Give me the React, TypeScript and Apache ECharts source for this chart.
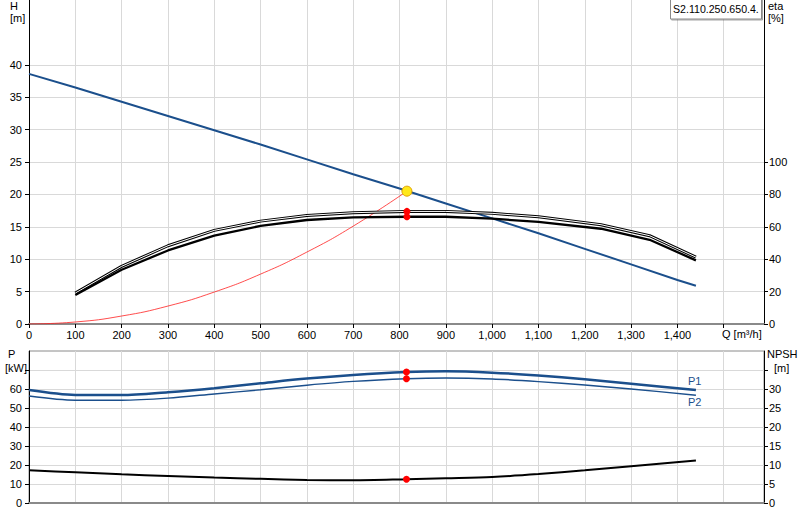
import React, { useEffect, useRef } from 'react';
import * as echarts from 'echarts';

// Q in m³/h
const headQ = [0, 100, 200, 300, 400, 500, 600, 700, 800, 900, 1000, 1100, 1200, 1300, 1400, 1440];
const headH = [38.6, 36.5, 34.3, 32.1, 29.9, 27.7, 25.4, 23.1, 20.9, 18.6, 16.3, 14.0, 11.6, 9.2, 6.8, 5.9];

const systemQ = [0, 100, 200, 300, 400, 500, 600, 700, 816];
const systemH = [0, 0.31, 1.23, 2.77, 4.93, 7.7, 11.1, 15.1, 20.5];

const etaQ = [100, 200, 300, 400, 500, 600, 700, 815, 900, 1000, 1100, 1235, 1340, 1440];
const etaUpper = [19.1, 35.6, 48.3, 57.8, 63.5, 67.0, 68.7, 69.5, 69.5, 68.3, 66.2, 61.3, 54.5, 41.3];
const etaLower = [17.9, 33.5, 45.4, 54.5, 60.6, 64.2, 65.8, 66.2, 66.2, 65.0, 63.0, 58.8, 52.0, 39.3];

const powerQ = [0, 100, 200, 300, 400, 500, 600, 700, 815, 900, 1000, 1100, 1200, 1300, 1440];
const p1 = [59.5, 56.9, 56.8, 58.3, 60.4, 63.0, 65.5, 67.4, 68.9, 69.3, 68.6, 67.1, 65.1, 62.8, 59.5];
const p2 = [56.3, 54.1, 54.1, 55.2, 57.4, 59.6, 62.0, 64.0, 65.4, 65.8, 65.3, 63.9, 62.1, 60.0, 56.7];

const npshQ = [0, 100, 200, 300, 400, 500, 600, 700, 815, 900, 1000, 1100, 1200, 1300, 1440];
const npsh = [8.6, 8.1, 7.55, 7.1, 6.68, 6.35, 6.05, 5.97, 6.24, 6.5, 6.84, 7.6, 8.6, 9.7, 11.2];

// duty point
const dutyQ = 816;
const dutyH = 20.5;
const dutyEta = [69.5, 66.2];
const dutyP = [68.9, 65.4];
const dutyNpsh = 6.24;

const hTicks = [0, 5, 10, 15, 20, 25, 30, 35, 40];
const etaTicks = [0, 20, 40, 60, 80, 100];
const pLabels = [0, 10, 20, 30, 40, 50, 60];
const pTicks = [0, 10, 20, 30, 40, 50, 60, 70];
const npshLabels = [0, 5, 10, 15, 20, 25, 30];
const npshTicks = [0, 5, 10, 15, 20, 25, 30, 35];

const FONT = '"Liberation Sans", Arial, sans-serif';
const BLUE = '#1b4f8c';
const RED = '#ff0000';
const GRID_LINE = '#d9d9d9';

const zip = (xs: number[], ys: number[]) => xs.map((x, i) => [x, ys[i]]);

function gText() {
	return { fill: '#000', fontSize: 11, fontFamily: FONT };
}

const App: React.FC = () => {
	const chartRef = useRef<HTMLDivElement>(null);

	useEffect(() => {
		if (!chartRef.current) return;
		const chart = echarts.init(chartRef.current, undefined, { renderer: 'svg' });

		const labelStyle = { color: '#000', fontSize: 11, fontFamily: FONT };
		const xBase = {
			type: 'value' as const,
			min: 0,
			max: 1587,
			interval: 100,
			splitLine: { show: true, lineStyle: { color: GRID_LINE, width: 1 } },
			axisLine: { show: true, lineStyle: { color: '#8a8a8a', width: 2 } }
		};
		const dot = { color: RED, opacity: 1 };

		const option: echarts.EChartsOption = {
			animation: false,
			grid: [
				{ left: 29, right: 36, top: 0, height: 324 },
				{ left: 29, right: 36, top: 351, height: 152, show: true, borderColor: '#8a8a8a', borderWidth: 1 }
			],
			xAxis: [
				{
					...xBase,
					gridIndex: 0,
					axisTick: { show: true, length: 4, lineStyle: { color: '#000' } },
					axisLabel: {
						...labelStyle,
						margin: 5,
						showMaxLabel: false,
						formatter: (v: number) => (v > 1450 ? '' : v.toLocaleString('en-US'))
					}
				},
				{
					...xBase,
					gridIndex: 1,
					axisTick: { show: false },
					axisLabel: { show: false }
				}
			],
			yAxis: [
				{
					type: 'value',
					gridIndex: 0,
					min: 0,
					max: 50,
					interval: 5,
					axisLine: { show: true, lineStyle: { color: '#000', width: 1 } },
					axisTick: { show: true, length: 4, customValues: hTicks, lineStyle: { color: '#000' } },
					axisLabel: { ...labelStyle, margin: 7, customValues: hTicks },
					splitLine: { show: true, lineStyle: { color: GRID_LINE, width: 1 } }
				},
				{
					type: 'value',
					gridIndex: 0,
					position: 'right',
					min: 0,
					max: 200,
					interval: 20,
					axisLine: { show: true, lineStyle: { color: '#000', width: 1 } },
					axisTick: { show: true, length: 4, customValues: etaTicks, lineStyle: { color: '#000' } },
					axisLabel: { ...labelStyle, margin: 5, customValues: etaTicks },
					splitLine: { show: false }
				},
				{
					type: 'value',
					gridIndex: 1,
					min: 0,
					max: 80,
					interval: 10,
					axisLine: { show: true, lineStyle: { color: '#000', width: 1 } },
					axisTick: { show: true, length: 4, customValues: pTicks, lineStyle: { color: '#000' } },
					axisLabel: { ...labelStyle, margin: 7, customValues: pLabels },
					splitLine: { show: true, lineStyle: { color: GRID_LINE, width: 1 } }
				},
				{
					type: 'value',
					gridIndex: 1,
					position: 'right',
					min: 0,
					max: 40,
					interval: 5,
					axisLine: { show: true, lineStyle: { color: '#000', width: 1 } },
					axisTick: { show: true, length: 4, customValues: npshTicks, lineStyle: { color: '#000' } },
					axisLabel: { ...labelStyle, margin: 5, customValues: npshLabels },
					splitLine: { show: false }
				}
			],
			series: [
				{
					name: 'System',
					type: 'line',
					xAxisIndex: 0,
					yAxisIndex: 0,
					data: zip(systemQ, systemH),
					smooth: true,
					symbol: 'none',
					lineStyle: { color: '#ff2020', width: 0.8 }
				},
				{
					name: 'H',
					type: 'line',
					xAxisIndex: 0,
					yAxisIndex: 0,
					data: zip(headQ, headH),
					symbol: 'none',
					lineStyle: { color: BLUE, width: 2 }
				},
				{
					name: 'eta outline',
					type: 'line',
					xAxisIndex: 0,
					yAxisIndex: 1,
					data: zip(etaQ, etaUpper),
					symbol: 'none',
					lineStyle: { color: '#000', width: 3 }
				},
				{
					name: 'eta inner',
					type: 'line',
					xAxisIndex: 0,
					yAxisIndex: 1,
					data: zip(etaQ, etaUpper),
					symbol: 'none',
					lineStyle: { color: '#fff', width: 1 }
				},
				{
					name: 'eta',
					type: 'line',
					xAxisIndex: 0,
					yAxisIndex: 1,
					data: zip(etaQ, etaLower),
					symbol: 'none',
					lineStyle: { color: '#000', width: 2.3 }
				},
				{
					name: 'eta points',
					type: 'scatter',
					xAxisIndex: 0,
					yAxisIndex: 1,
					data: dutyEta.map(v => [dutyQ, v]),
					symbolSize: 7,
					itemStyle: dot,
					z: 5
				},
				{
					name: 'Duty',
					type: 'scatter',
					xAxisIndex: 0,
					yAxisIndex: 0,
					data: [[dutyQ, dutyH]],
					symbolSize: 10,
					itemStyle: { color: '#ffe81a', borderColor: '#e0a000', borderWidth: 1, opacity: 1 },
					z: 5
				},
				{
					name: 'P1',
					type: 'line',
					xAxisIndex: 1,
					yAxisIndex: 2,
					data: zip(powerQ, p1),
					smooth: 0.3,
					symbol: 'none',
					lineStyle: { color: BLUE, width: 2.5 },
					endLabel: {
						show: true,
						formatter: 'P1',
						color: BLUE,
						fontSize: 11,
						fontFamily: FONT,
						offset: [-16, -9]
					}
				},
				{
					name: 'P2',
					type: 'line',
					xAxisIndex: 1,
					yAxisIndex: 2,
					data: zip(powerQ, p2),
					smooth: 0.3,
					symbol: 'none',
					lineStyle: { color: BLUE, width: 1.4 },
					endLabel: {
						show: true,
						formatter: 'P2',
						color: BLUE,
						fontSize: 11,
						fontFamily: FONT,
						offset: [-16, 7]
					}
				},
				{
					name: 'NPSH',
					type: 'line',
					xAxisIndex: 1,
					yAxisIndex: 3,
					data: zip(npshQ, npsh),
					smooth: 0.3,
					symbol: 'none',
					lineStyle: { color: '#000', width: 2 }
				},
				{
					name: 'P points',
					type: 'scatter',
					xAxisIndex: 1,
					yAxisIndex: 2,
					data: dutyP.map(v => [dutyQ - 1, v]),
					symbolSize: 7,
					itemStyle: dot,
					z: 5
				},
				{
					name: 'NPSH point',
					type: 'scatter',
					xAxisIndex: 1,
					yAxisIndex: 3,
					data: [[dutyQ - 1, dutyNpsh]],
					symbolSize: 7,
					itemStyle: dot,
					z: 5
				}
			],
			graphic: [
				{ type: 'text', left: 10, top: 0, style: { text: 'H', ...gText() } },
				{ type: 'text', left: 10, top: 12, style: { text: '[m]', ...gText() } },
				{ type: 'text', left: 768, top: 0, style: { text: 'eta', ...gText() } },
				{ type: 'text', left: 768, top: 12, style: { text: '[%]', ...gText() } },
				{ type: 'text', left: 722, top: 328, style: { text: 'Q [m³/h]', ...gText() } },
				{ type: 'text', left: 8, top: 348, style: { text: 'P', ...gText() } },
				{ type: 'text', left: 5, top: 362, style: { text: '[kW]', ...gText() } },
				{ type: 'text', left: 767, top: 348, style: { text: 'NPSH', ...gText() } },
				{ type: 'text', left: 774, top: 362, style: { text: '[m]', ...gText() } },
				{
					type: 'rect',
					shape: { x: 670.5, y: -1, width: 91, height: 20 },
					style: {
						fill: '#fff',
						stroke: '#8a8a8a',
						lineWidth: 1,
						shadowColor: 'rgba(0,0,0,0.35)',
						shadowOffsetX: 1,
						shadowOffsetY: 1,
						shadowBlur: 1
					},
					z: 100
				},
				{
					type: 'text',
					x: 673,
					y: 3,
					z: 101,
					style: { text: 'S2.110.250.650.4.', ...gText(), fontSize: 10.6 }
				}
			]
		};

		chart.setOption(option);

		return () => {
			chart.dispose();
		};
	}, []);

	return (
		<div
			ref={chartRef}
			style={{ position: 'absolute', left: 0, top: 0, width: '800px', height: '520px', background: '#fff' }}
		/>
	);
};

export default App;
